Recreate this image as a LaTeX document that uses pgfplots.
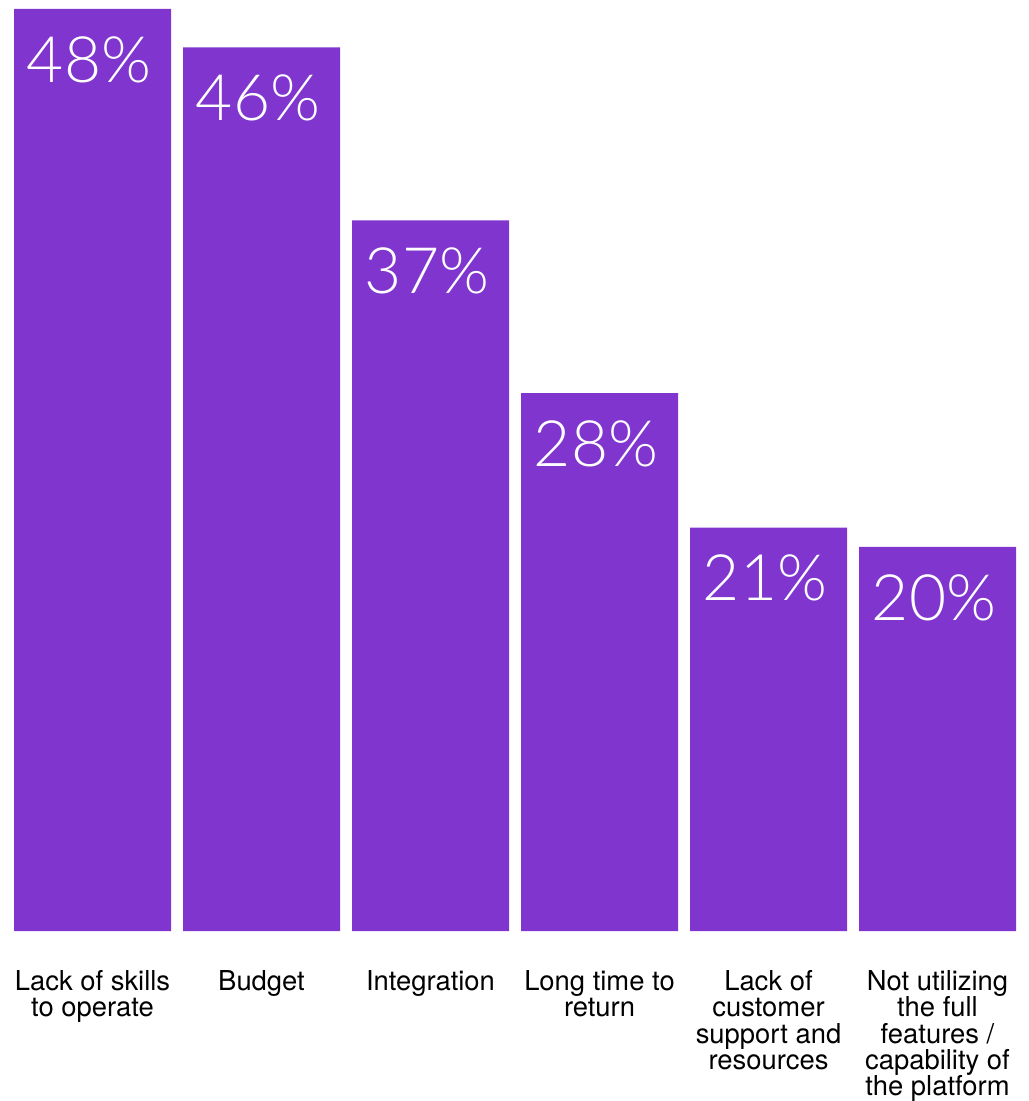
\documentclass[border=0pt]{standalone}
\usepackage{pgfplots}
\pgfplotsset{compat=1.18}
\usepackage{fontspec}
\setmainfont{TeX Gyre Heros}
\newfontfamily\lightfont{Lato Light}
\definecolor{barpurple}{RGB}{128,54,206}
\begin{document}
\begin{tikzpicture}
\begin{axis}[
  width=501pt, height=461pt, scale only axis,
  xmin=-0.4645, xmax=5.4645, ymin=0, ymax=48,
  axis line style={draw=none},
  major tick length=0pt,
  ytick=\empty,
  xtick=data,
  xticklabels={{Lack of skills\\to operate},{Budget},{Integration},{Long time to\\return},{Lack of\\customer\\support and\\resources},{Not utilizing\\the full\\features /\\capability of\\the platform}},
  xticklabel style={align=center, anchor=north, inner sep=0pt, yshift=-19.5pt,
     font=\fontsize{13.7}{13.2}\selectfont, text=black},
  ybar, bar width=78.5pt,
  clip=false,
  nodes near coords={\pgfmathprintnumber[assume math mode=true]{\pgfplotspointmeta}\%},
  nodes near coords style={anchor=north west, inner sep=0pt, xshift=-33pt, yshift=-13.5pt,
     font=\lightfont\fontsize{32}{32}\selectfont, text=white},
]
\addplot[fill=barpurple, draw=none] coordinates {(0,48) (1,46) (2,37) (3,28) (4,21) (5,20)};
\end{axis}
\pgfresetboundingbox
\path (-7pt,-85pt) rectangle (507pt,465.5pt);
\end{tikzpicture}
\end{document}
